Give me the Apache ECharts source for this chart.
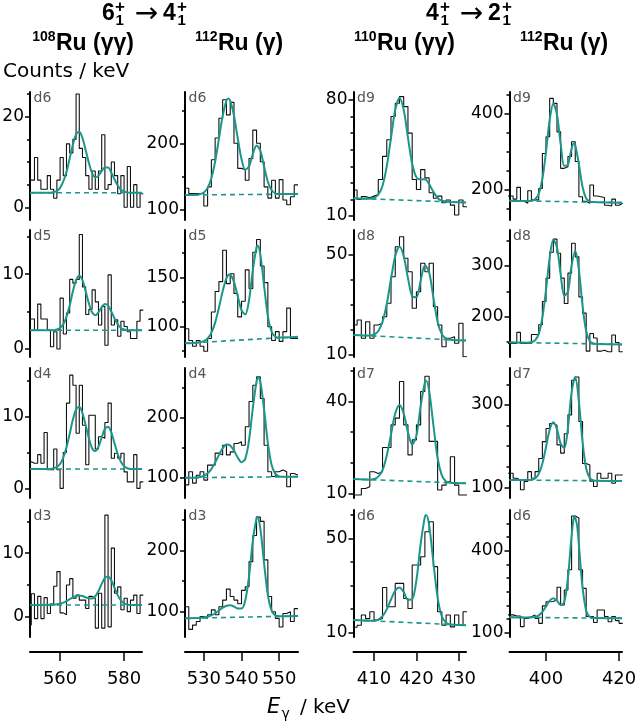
<!DOCTYPE html>
<html>
<head>
<meta charset="utf-8">
<title>Ru gamma spectra</title>
<script src="https://cdn.jsdelivr.net/npm/echarts@6/dist/echarts.min.js"></script>
<style>
  html, body { margin: 0; padding: 0; background: #fff; }
  #chart { width: 636px; height: 722px; }
</style>
</head>
<body>
<div id="chart"></div>
<script>
// ---------- data ----------
// 1 keV bins, first bin low edge per column
const binStart = [550, 524, 405, 389];
const xRange = [[550.6, 585.6], [525, 555], [405.15, 431.7], [390, 420.8]];
const xTicks = [[560, 580], [530, 540, 550], [410, 420, 430], [400, 420]];
const panelLabels = [['d6', 'd5', 'd4', 'd3'], ['d6', 'd5', 'd4', 'd3'], ['d9', 'd8', 'd7', 'd6'], ['d9', 'd8', 'd7', 'd6']];

// 108Ru (γγ), 6+ -> 4+
const ru108_d6 = [6, 6, 11, 6, 4, 4, 7, 4, 2, 6, 11, 7, 14, 12, 15, 25, 13, 11, 7, 4, 8, 4, 8, 16, 4, 5, 10, 7, 3, 7, 0, 9, 0, 5, 0, 3];
const ru108_d5 = [4, 4, 2.5, 6, 4, 4, 2.5, 0.3, 2.3, 0, 6.8, 2, 4.8, 9.3, 8.8, 9.3, 15.3, 8.3, 4.6, 5.3, 7.9, 6.3, 3.2, 5.7, 0.5, 9.9, 3.2, 3.9, 1.7, 3.7, 3, 2.3, 1.4, 1.4, 3.7, 5.2];
const ru108_d4 = [3.7, 3.5, 3.5, 4.7, 3.5, 7.8, 2.6, 2.6, 5.5, 2.6, 0, 5, 11.9, 15.8, 14.4, 7.7, 14.4, 8.8, 3.3, 10.2, 10.2, 5.5, 7.2, 7.0, 9.2, 11.9, 4.2, 4.9, 4.2, 4.9, 2.3, 0.9, 0.9, 4.7, 0, 0.9];
const ru108_d3 = [-1.3, 3.6, -0.3, 3.2, -0.3, 3.0, 0.5, 2.0, 4.8, 7.1, 0.6, 0.3, 5.0, 6.0, 2.9, 3.4, 2.6, 2.6, 1.3, 3.2, 2.9, -1.8, 3.7, -1.8, 16, -1.6, 10.8, 3.7, 4.7, 1.1, 2.9, 0.8, 2.6, 3.4, 0.5, 3.4];
const fit108_d6 = [[550.6, 3.2], [557, 3.2], [558, 3.4], [559, 3.6], [560, 4.3], [561, 5.7], [562, 7.8], [563, 10.8], [564, 13.8], [565, 16.1], [566, 16.7], [567, 15.3], [568, 12.6], [569, 9.8], [570, 7.6], [571, 6.6], [572, 7.0], [573, 8.0], [574, 8.8], [575, 8.8], [576, 7.7], [577, 6.2], [578, 4.8], [579, 3.9], [580, 3.5], [581, 3.3], [582, 3.2], [585.6, 3.2]];
const fit108_d5 = [[550.6, 2.5], [558, 2.5], [559, 2.6], [560, 2.8], [561, 3.3], [562, 4.3], [563, 5.8], [564, 7.7], [565, 9.2], [566, 9.8], [567, 9.2], [568, 7.7], [569, 6.1], [570, 4.9], [571, 4.5], [572, 4.9], [573, 5.6], [574, 6.0], [575, 5.8], [576, 5.0], [577, 4.1], [578, 3.3], [579, 2.8], [580, 2.6], [581, 2.5], [585.6, 2.5]];
const fit108_d4 = [[550.6, 2.7], [557, 2.7], [558, 2.8], [559, 3.0], [560, 3.4], [561, 4.3], [562, 5.7], [563, 7.6], [564, 9.6], [565, 11.0], [566, 11.4], [567, 10.5], [568, 8.8], [569, 7.0], [570, 5.6], [571, 5.2], [572, 5.8], [573, 7.1], [574, 8.3], [575, 8.6], [576, 7.8], [577, 6.3], [578, 4.8], [579, 3.7], [580, 3.1], [581, 2.8], [582, 2.7], [585.6, 2.7]];
const fit108_d3 = [[550.6, 1.84], [557, 1.86], [558, 1.88], [559, 1.94], [560, 2.04], [561, 2.21], [562, 2.46], [563, 2.75], [564, 3.04], [565, 3.26], [566, 3.34], [567, 3.26], [568, 3.04], [569, 2.89], [570, 2.88], [571, 3.22], [572, 4.04], [573, 5.16], [574, 6.09], [575, 6.32], [576, 5.72], [577, 4.57], [578, 3.40], [579, 2.57], [580, 2.11], [581, 1.93], [582, 1.84], [585.6, 1.84]];
const bg108_d6 = [[550.6, 3.2], [585.6, 3.2]];
const bg108_d5 = [[550.6, 2.5], [585.6, 2.5]];
const bg108_d4 = [[550.6, 2.7], [585.6, 2.7]];
const bg108_d3 = [[550.6, 1.84], [585.6, 1.84]];
const yRange108 = [[-2.8, 25.45], [-1.07, 15.9], [-1.35, 16.8], [-3.2, 16.8]];
const yLabels108 = [[0, 20], [0, 10], [0, 10], [0, 10]];
const yMinor108 = [[5, 10, 15, 25], [5, 15], [5, 15], [5, 15]];

// 112Ru (γ), 6+ -> 4+
const ru112a_d6 = [132, 132, 124, 124, 124, 124, 105, 134, 175, 208, 238, 266, 243, 262, 200, 162, 160, 144, 177, 220, 200, 172, 134, 117, 144, 117, 145, 114, 107, 119, 137];
const ru112a_d5 = [98, 98, 86, 80, 86, 80, 75, 88, 115, 136, 146, 178, 144, 154, 134, 110, 126, 158, 139, 176, 189, 162, 145, 100, 86, 95, 85, 95, 119, 88, 88];
const ru112a_d4 = [88, 88, 110, 91, 104, 110, 96, 121, 121, 141, 138, 154, 138, 143, 157, 160, 154, 185, 227, 254, 268, 232, 154, 110, 102, 110, 113, 110, 85, 107, 104];
const ru112a_d3 = [108, 108, 71, 78, 84, 92, 89, 95, 103, 95, 108, 119, 137, 125, 119, 113, 135, 141, 182, 225, 255, 248, 185, 125, 100, 89, 75, 97, 100, 84, 105];
const fit112a_d6 = [[525, 121.7], [528, 122.1], [529, 123.0], [530, 125.6], [531, 132.5], [532, 147.1], [533, 172.4], [534, 206.7], [535, 241.8], [536, 264.6], [536.5, 267.7], [537, 264.6], [538, 242.0], [539, 207.6], [540, 176.2], [541, 160.0], [542, 164.9], [543, 183.7], [544, 196.8], [545, 188.9], [546, 164.7], [547, 141.7], [548, 128.8], [549, 124.1], [550, 123.0], [555, 123.0]];
const fit112a_d5 = [[525, 83.1], [528, 83.7], [529, 84.3], [530, 85.4], [531, 88.0], [532, 93.7], [533, 104.2], [534, 119.3], [535, 136.3], [536, 149.4], [536.8, 153.3], [537, 153.2], [538, 145.7], [539, 131.0], [540, 116.8], [541, 112.5], [542, 127.1], [543, 157.7], [544, 181.3], [544.3, 182.7], [545, 173.9], [546, 141.7], [547, 110.8], [548, 94.7], [549, 89.7], [550, 88.9], [555, 89.8]];
const fit112a_d4 = [[525, 100.0], [527, 100.1], [528, 100.5], [529, 101.3], [530, 103.2], [531, 107.3], [532, 114.4], [533, 125.1], [534, 137.7], [535, 149.1], [536, 155.2], [537, 153.7], [538, 145.1], [539, 133.8], [540, 125.9], [541, 131.5], [542, 162.3], [543, 215.5], [544, 260.8], [544.5, 267.5], [545, 260.3], [546, 213.7], [547, 157.6], [548, 121.2], [549, 106.4], [550, 102.3], [551, 101.5], [555, 101.7]];
const fit112a_d3 = [[525, 89.1], [528, 89.5], [529, 89.9], [530, 90.5], [531, 91.7], [532, 93.9], [533, 97.4], [534, 102.0], [535, 106.5], [536, 109.8], [537, 110.5], [538, 108.4], [539, 105.2], [540, 105.1], [541, 118.3], [542, 157.6], [543, 216.2], [544, 254.5], [544.2, 255.7], [545, 236.3], [546, 178.8], [547, 127.3], [548, 101.8], [549, 93.9], [550, 92.5], [555, 92.9]];
const bg112a_d6 = [[525, 121.7], [555, 123.0]];
const bg112a_d5 = [[525, 83.1], [555, 89.8]];
const bg112a_d4 = [[525, 100.0], [555, 101.7]];
const bg112a_d3 = [[525, 89.1], [555, 92.9]];
const yRange112a = [[83.8, 277.7], [69.1, 198.7], [66.2, 282.8], [58.5, 266.7]];
const yLabels112a = [[100, 200], [100, 150], [100, 200], [100, 200]];
const yMinor112a = [[150, 250], [75, 125, 175], [150, 250], [150, 250]];

// 110Ru (γγ), 4+ -> 2+
const ru110_d9 = [25.7, 20, 21.7, 21, 22, 23, 32, 46, 56, 70, 78, 82, 76, 60, 32, 26, 38, 33, 24, 20.7, 22, 18, 19.7, 16.6, 10.6, 19.7, 15.6];
const ru110_d8 = [21.7, 23.7, 16.4, 23, 16.4, 21.7, 22.4, 25, 30.4, 41, 53, 57, 48.4, 43, 28.4, 35, 46.4, 43, 46.4, 29, 21.7, 13, 16.4, 17, 14.4, 22.4, 9];
const ru110_d7 = [9.5, 9.5, 11.6, 12.2, 17.1, 16.5, 17.1, 25, 25, 32.4, 34.6, 46.6, 32.4, 22.6, 27.5, 32.4, 43.3, 48.3, 27, 27, 11.1, 12.7, 13.8, 22, 12.7, 9.5, 9.5];
const ru110_d6 = [12.3, 13.2, 17.5, 16, 18.9, 15.4, 16, 29.2, 21, 21, 30.9, 30.9, 24.5, 20.3, 38.7, 38.7, 42.2, 52.8, 57, 38, 18.9, 13.2, 17.5, 12.5, 17.5, 13.2, 18.9];
const fit110_d9 = [[405.15, 20.7], [408, 20.4], [409, 20.4], [410, 20.9], [411, 22.8], [412, 28.3], [413, 39.9], [414, 57.1], [415, 74.1], [416, 81.2], [417, 74.0], [418, 57.3], [419, 41.5], [420, 33.3], [421, 32.1], [422, 32.2], [423, 29.3], [424, 24.6], [425, 20.9], [426, 19.2], [427, 18.7], [428, 18.5], [431.7, 18.2]];
const fit110_d8 = [[405.15, 17.7], [409, 17.5], [410, 17.9], [411, 19.3], [412, 23.0], [413, 30.1], [414, 40.1], [415, 49.3], [416, 53.1], [417, 49.2], [418, 40.5], [419, 33.2], [420, 32.8], [421, 39.5], [422, 45.6], [423, 42.8], [424, 32.7], [425, 23.0], [426, 18.0], [427, 16.3], [428, 15.8], [431.7, 15.5]];
const fit110_d7 = [[405.15, 14.7], [409, 14.5], [410, 14.7], [411, 15.5], [412, 17.6], [413, 22.4], [414, 29.3], [415, 36.1], [416, 38.9], [417, 36.1], [418, 30.0], [419, 26.0], [420, 28.9], [421, 38.6], [422, 46.3], [422.3, 46.8], [423, 43.6], [424, 32.4], [425, 21.5], [426, 15.9], [427, 13.9], [428, 13.5], [431.7, 13.3]];
const fit110_d6 = [[405.15, 15.4], [409, 15.1], [410, 15.2], [411, 15.6], [412, 17.0], [413, 19.9], [414, 24.1], [415, 27.9], [416, 29.2], [417, 27.2], [418, 24.0], [419, 24.2], [420, 32.3], [421, 47.7], [422, 59.2], [422.3, 59.9], [423, 55.6], [424, 39.9], [425, 24.9], [426, 16.9], [427, 14.2], [428, 13.5], [431.7, 13.2]];
const bg110_d9 = [[405.15, 20.7], [431.7, 18.2]];
const bg110_d8 = [[405.15, 17.7], [431.7, 15.5]];
const bg110_d7 = [[405.15, 14.7], [431.7, 13.3]];
const bg110_d6 = [[405.15, 15.4], [431.7, 13.2]];
const yRange110 = [[7.6, 84.8], [8.9, 59.7], [8.5, 51.0], [8.2, 62.0]];
const yLabels110 = [[10, 80], [10, 50], [10, 40], [10, 50]];
const yMinor110 = [[20, 30, 40, 50, 60, 70], [20, 30, 40], [20, 30, 50], [20, 30, 40, 60]];

// 112Ru (γ), 4+ -> 2+
const ru112b_d9 = [184, 184, 176, 207, 170, 165, 198, 174, 174, 204, 296, 340, 441, 428, 353, 257, 261, 288, 327, 275, 182, 170, 165, 213, 184, 182, 180, 160, 158, 176, 160, 165];
const ru112b_d8 = [147, 147, 147, 169, 147, 147, 147, 165, 165, 184, 230, 276, 327, 353, 325, 276, 226, 286, 345, 318, 239, 207, 132, 167, 158, 132, 134, 131, 131, 164, 149, 131];
const ru112b_d7 = [134, 134, 122, 118, 94, 114, 138, 122, 138, 170, 211, 243, 255, 251, 203, 183, 230, 276, 360, 368, 260, 158, 154, 115, 102, 134, 122, 122, 134, 110, 130, 130];
const ru112b_d6 = [165, 165, 161, 161, 122, 152, 158, 165, 152, 134, 198, 213, 214, 220, 266, 201, 256, 330, 527, 520, 330, 262, 159, 159, 137, 183, 183, 159, 140, 159, 144, 134];
const fit112b_d9 = [[390, 171.9], [395, 171.0], [396, 171.7], [397, 175.4], [398, 189.8], [399, 229.0], [400, 300.8], [401, 384.2], [402, 427.6], [403, 398.0], [404, 322.0], [405, 263.5], [406, 266.6], [407, 309.4], [407.7, 322.8], [408, 318.4], [409, 267.6], [410, 207.9], [411, 177.7], [412, 169.6], [413, 168.1], [414, 167.8], [420.8, 166.7]];
const fit112b_d8 = [[390, 149.4], [395, 148.7], [396, 149.6], [397, 153.4], [398, 166.1], [399, 197.9], [400, 253.2], [401, 316.2], [402, 352.1], [403, 336.4], [404, 283.8], [405, 241.2], [406, 249.6], [407, 300.9], [408, 330.3], [409, 292.4], [410, 221.3], [411, 171.2], [412, 151.7], [413, 147.1], [414, 146.3], [420.8, 145.4]];
const fit112b_d7 = [[390, 117.8], [394, 117.5], [395, 117.5], [396, 118.3], [397, 121.7], [398, 132.6], [399, 157.6], [400, 198.1], [401, 239.8], [402, 257.9], [403, 240.9], [404, 206.3], [405, 195.8], [406, 244.5], [407, 330.7], [408, 368.1], [409, 308.4], [410, 210.4], [411, 145.8], [412, 122.0], [413, 116.8], [414, 115.9], [420.8, 115.4]];
const fit112b_d6 = [[390, 156.2], [395, 155.6], [396, 156.0], [397, 157.6], [398, 163.0], [399, 175.6], [400, 196.0], [401, 217.0], [402, 226.0], [403, 217.2], [404, 201.2], [405, 212.0], [406, 300.6], [406.5, 376.2], [407, 454.9], [407.5, 512.0], [407.9, 527.4], [408, 526.3], [408.5, 491.9], [409, 421.4], [409.5, 338.6], [410, 264.9], [411, 180.4], [412, 157.3], [413, 153.8], [414, 153.4], [420.8, 152.5]];
const bg112b_d9 = [[390, 171.9], [420.8, 166.7]];
const bg112b_d8 = [[390, 149.4], [420.8, 145.4]];
const bg112b_d7 = [[390, 117.8], [420.8, 115.4]];
const bg112b_d6 = [[390, 156.2], [420.8, 152.5]];
const yRange112b = [[121, 457.9], [120.5, 371], [74, 389.9], [84, 549]];
const yLabels112b = [[200, 400], [200, 300], [100, 300], [100, 400]];
const yMinor112b = [[150, 250, 300, 350, 450], [150, 250, 350], [150, 200, 250, 350], [150, 200, 250, 300, 350, 450, 500]];

// ---------- layout ----------
const colLeft = [30, 185, 353.5, 509.5];
const colRight = [142, 298, 466, 622];
const rowTop = [92, 230, 368, 510];
const rowBottom = [220, 357, 498, 637];
const teal = '#1a968a';
const sans = '"DejaVu Sans"';
const boldFont = '"Liberation Sans"';

const columns = [
  { counts: [ru108_d6, ru108_d5, ru108_d4, ru108_d3], fits: [fit108_d6, fit108_d5, fit108_d4, fit108_d3],
    bgs: [bg108_d6, bg108_d5, bg108_d4, bg108_d3], yRange: yRange108, yLabels: yLabels108, yMinor: yMinor108 },
  { counts: [ru112a_d6, ru112a_d5, ru112a_d4, ru112a_d3], fits: [fit112a_d6, fit112a_d5, fit112a_d4, fit112a_d3],
    bgs: [bg112a_d6, bg112a_d5, bg112a_d4, bg112a_d3], yRange: yRange112a, yLabels: yLabels112a, yMinor: yMinor112a },
  { counts: [ru110_d9, ru110_d8, ru110_d7, ru110_d6], fits: [fit110_d9, fit110_d8, fit110_d7, fit110_d6],
    bgs: [bg110_d9, bg110_d8, bg110_d7, bg110_d6], yRange: yRange110, yLabels: yLabels110, yMinor: yMinor110 },
  { counts: [ru112b_d9, ru112b_d8, ru112b_d7, ru112b_d6], fits: [fit112b_d9, fit112b_d8, fit112b_d7, fit112b_d6],
    bgs: [bg112b_d9, bg112b_d8, bg112b_d7, bg112b_d6], yRange: yRange112b, yLabels: yLabels112b, yMinor: yMinor112b }
];

// step outline: one point per bin low edge, plus the last upper edge
function histPoints(start, counts) {
  const pts = counts.map((c, i) => [start + i, c]);
  pts.push([start + counts.length, counts[counts.length - 1]]);
  return pts;
}

function txt(x, y, text, font, align, color) {
  const a = align || 'left';
  return {
    type: 'text', x: x, y: y, silent: true, z: 100,
    style: { text: text, font: font, fill: color || '#000', align: a, verticalAlign: 'middle', textAlign: a, textVerticalAlign: 'middle' }
  };
}

const grids = [], xAxes = [], yAxes = [], series = [], graphics = [];

columns.forEach((col, c) => {
  for (let r = 0; r < 4; r++) {
    const p = grids.length;
    grids.push({
      left: colLeft[c], top: rowTop[r],
      width: colRight[c] - colLeft[c], height: rowBottom[r] - rowTop[r],
      outerBoundsMode: 'none'
    });
    const bottom = r === 3;
    xAxes.push({
      type: 'value', gridIndex: p, min: xRange[c][0], max: xRange[c][1],
      show: bottom, position: 'bottom', offset: 15,
      axisLine: { show: true, onZero: false, lineStyle: { color: '#000', width: 2 } },
      axisTick: { show: true, customValues: xTicks[c], length: 9, lineStyle: { color: '#000', width: 1.5 } },
      axisLabel: { show: true, customValues: xTicks[c], color: '#000', fontSize: 18, fontFamily: sans, margin: 18 },
      splitLine: { show: false }
    });
    yAxes.push({
      type: 'value', gridIndex: p, min: col.yRange[r][0], max: col.yRange[r][1], position: 'left',
      axisLine: { show: true, onZero: false, lineStyle: { color: '#000', width: 2 } },
      axisTick: { show: true, customValues: col.yLabels[r], length: 5, lineStyle: { color: '#000', width: 1.5 } },
      axisLabel: { show: true, customValues: col.yLabels[r], color: '#000', fontSize: 17, fontFamily: sans, margin: 6 },
      splitLine: { show: false }
    });
    yAxes.push({
      type: 'value', gridIndex: p, min: col.yRange[r][0], max: col.yRange[r][1], position: 'left',
      axisLine: { show: false },
      axisTick: { show: true, customValues: col.yMinor[r], length: 3, lineStyle: { color: '#000', width: 1.5 } },
      axisLabel: { show: false },
      splitLine: { show: false }
    });
    const common = { type: 'line', xAxisIndex: p, yAxisIndex: 2 * p, symbol: 'none', silent: true, clip: true, emphasis: { disabled: true } };
    series.push(Object.assign({}, common, {
      data: histPoints(binStart[c], col.counts[r]), step: 'end', z: 2,
      lineStyle: { color: '#111', width: 1.1 }
    }));
    series.push(Object.assign({}, common, {
      data: col.bgs[r], z: 3,
      lineStyle: { color: teal, width: 1.6, type: [5, 4] }
    }));
    series.push(Object.assign({}, common, {
      data: col.fits[r], smooth: 0.3, z: 4,
      lineStyle: { color: teal, width: 2 }
    }));
    graphics.push(txt(colLeft[c] + 3.5, rowTop[r] + 6.5, panelLabels[c][r], '14px ' + sans, 'left', '#555'));
  }
});

// titles
const big = 'bold 23px ' + boldFont;
const plus = 'bold 17px ' + boldFont;
const small = 'bold 15px ' + boldFont;
const supNum = 'bold 14px ' + boldFont;
const arrow = '28px ' + sans;
graphics.push(
  txt(102, 13.5, '6', big), txt(115, 7, '+', plus), txt(115.5, 20.5, '1', small),
  txt(146.5, 15, '→', arrow, 'center'),
  txt(163, 13.5, '4', big), txt(177, 7, '+', plus), txt(177.5, 20.5, '1', small),
  txt(426, 13.5, '4', big), txt(440, 7, '+', plus), txt(440.5, 20.5, '1', small),
  txt(471.5, 15, '→', arrow, 'center'),
  txt(488, 13.5, '2', big), txt(502, 7, '+', plus), txt(502.5, 20.5, '1', small),
  txt(55.5, 37, '108', supNum, 'right'), txt(56, 44, 'Ru (γγ)', big),
  txt(217.5, 37, '112', supNum, 'right'), txt(218, 44, 'Ru (γ)', big),
  txt(376.5, 37, '110', supNum, 'right'), txt(377, 44, 'Ru (γγ)', big),
  txt(542.5, 37, '112', supNum, 'right'), txt(543, 44, 'Ru (γ)', big),
  txt(3, 72, 'Counts / keV', '20px ' + sans),
  txt(267, 708, 'E', 'italic 21px ' + sans),
  txt(281.5, 714, 'γ', '14px ' + sans),
  txt(300, 708, '/ keV', '20px ' + sans)
);

const chart = echarts.init(document.getElementById('chart'), null, { renderer: 'canvas' });
chart.setOption({
  backgroundColor: '#fff',
  animation: false,
  grid: grids,
  xAxis: xAxes,
  yAxis: yAxes,
  series: series,
  graphic: graphics
});
</script>
</body>
</html>
